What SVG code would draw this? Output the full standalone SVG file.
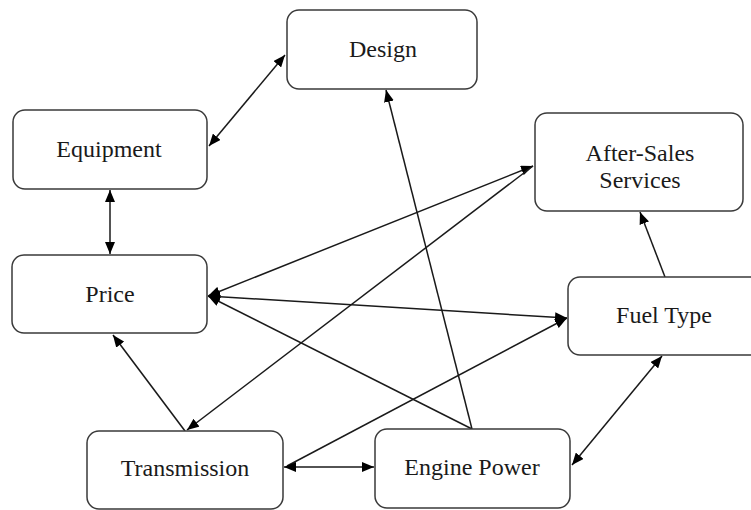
<svg xmlns="http://www.w3.org/2000/svg" width="751" height="510" viewBox="0 0 751 510">
<style>
.box{fill:#fff;stroke:#3a3a3a;stroke-width:1.5}
.lbl{font-family:"Liberation Serif","Times New Roman",serif;font-size:24px;fill:#1a1a1a;text-anchor:middle}
.c{stroke:#1a1a1a;stroke-width:1.5;fill:none}
</style>
<defs>
<marker id="a" viewBox="0 0 12 10" markerWidth="12" markerHeight="10" refX="12" refY="5" orient="auto-start-reverse" markerUnits="userSpaceOnUse">
<path d="M0,0 L12,5 L0,10 z" fill="#000"/>
</marker>
</defs>
<rect width="751" height="510" fill="#fff"/>
<g id="connectors">
<line class="c" x1="209" y1="146" x2="285" y2="55" marker-start="url(#a)" marker-end="url(#a)"/>
<line class="c" x1="110" y1="190" x2="110" y2="254" marker-start="url(#a)" marker-end="url(#a)"/>
<line class="c" x1="533" y1="166" x2="208" y2="296" marker-start="url(#a)" marker-end="url(#a)"/>
<line class="c" x1="533" y1="166" x2="187" y2="430" marker-end="url(#a)"/>
<line class="c" x1="567" y1="318" x2="208" y2="296" marker-start="url(#a)" marker-end="url(#a)"/>
<line class="c" x1="287" y1="466" x2="567" y2="318" marker-end="url(#a)"/>
<line class="c" x1="472" y1="429" x2="208" y2="296" marker-end="url(#a)"/>
<line class="c" x1="472" y1="429" x2="386" y2="90" marker-end="url(#a)"/>
<line class="c" x1="185" y1="431" x2="113" y2="335" marker-end="url(#a)"/>
<line class="c" x1="284" y1="467" x2="374" y2="467" marker-start="url(#a)" marker-end="url(#a)"/>
<line class="c" x1="572" y1="465" x2="662" y2="356" marker-start="url(#a)" marker-end="url(#a)"/>
<line class="c" x1="665" y1="277" x2="640" y2="212" marker-end="url(#a)"/>
</g>
<g id="design"><rect class="box" x="287" y="10" width="190" height="79" rx="12"/><text class="lbl" x="383" y="57">Design</text></g>
<g id="equipment"><rect class="box" x="13" y="110" width="194" height="79" rx="12"/><text class="lbl" x="109" y="157">Equipment</text></g>
<g id="price"><rect class="box" x="12" y="255" width="195" height="78" rx="12"/><text class="lbl" x="110" y="302">Price</text></g>
<g id="after-sales"><rect class="box" x="535" y="113" width="208" height="98" rx="12"/><text class="lbl" x="640" y="161">After-Sales</text><text class="lbl" x="640" y="188">Services</text></g>
<g id="fuel-type"><rect class="box" x="568" y="277" width="200" height="78" rx="12"/><text class="lbl" x="664" y="323">Fuel Type</text></g>
<g id="transmission"><rect class="box" x="87" y="431" width="196" height="78" rx="12"/><text class="lbl" x="185" y="476">Transmission</text></g>
<g id="engine-power"><rect class="box" x="375" y="429" width="195" height="79" rx="12"/><text class="lbl" x="472" y="475">Engine Power</text></g>
</svg>
